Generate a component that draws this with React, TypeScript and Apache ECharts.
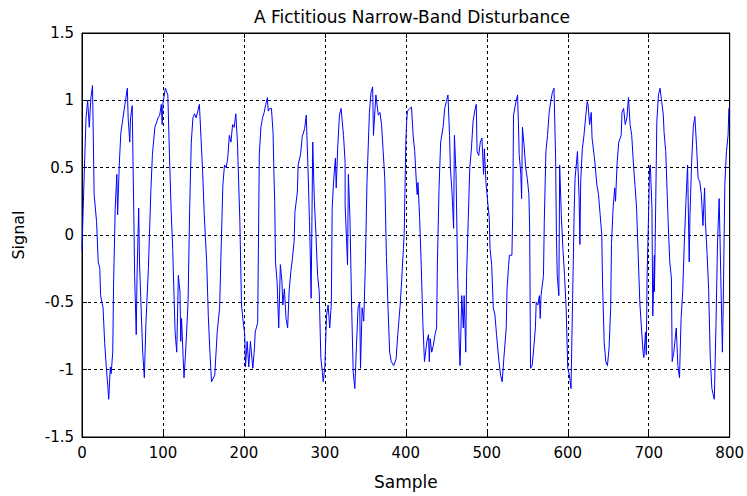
import React, { useEffect, useRef } from "react";
import * as echarts from "echarts";

const title = "A Fictitious Narrow-Band Disturbance";
const xName = "Sample";
const yName = "Signal";
const xTicks = [0, 800, 100];
const yTicks = [-1.5, 1.5, 0.5];

// Traced vertices of the signal: sample index and value
const sampleIdx = [
  0,1,3,5,7,9,11,13,15,18,20,22,23,26,28,30,32,33,35,36,38,39,41,43,44,46,48,53,56,57,59,60,62,64,65,67,68,70,71,73,75,77,79,82,85,87,90,94,96,98,
  99,100,103,106,108,110,112,115,117,119,121,122,123,125,126,128,131,133,135,137,139,141,143,145,147,149,151,154,156,158,160,164,167,170,172,174,176,178,180,182,184,186,188,190,192,195,197,199,201,
  202,204,206,208,211,213,214,217,219,221,223,225,227,229,230,232,234,236,237,238,239,241,243,245,247,248,250,252,254,256,258,260,262,263,266,267,270,272,275,277,279,281,282,283,285,287,289,291,293,295,298,300,
  302,304,306,308,309,311,313,314,316,318,320,323,325,325,327,328,329,331,333,335,337,339,341,343,344,346,348,350,352,355,357,359,360,362,363,366,368,370,372,374,376,378,380,382,385,388,390,393,395,397,398,400,
  401,402,405,407,409,411,413,414,415,417,419,421,423,426,428,429,430,432,434,436,438,439,441,443,446,448,450,452,454,455,457,459,460,462,464,466,467,469,471,472,474,475,477,479,481,483,485,487,488,490,492,494,496,497,499,501,503,504,
  506,508,510,512,515,517,519,521,524,525,527,528,531,532,533,536,538,539,540,542,543,544,546,548,550,552,553,554,556,558,560,561,563,565,566,567,570,571,573,575,577,579,581,583,585,586,587,589,590,592,594,596,598,600,602,604,
  606,608,609,612,614,615,616,618,620,622,624,625,627,629,630,633,636,638,640,642,643,645,647,649,651,653,654,656,658,659,661,663,666,667,669,671,673,675,677,679,681,683,685,687,689,691,693,694,696,697,698,700,701,
  702,704,705,707,707,708,710,712,714,716,718,719,721,724,726,728,729,731,734,736,738,740,742,744,746,748,750,751,753,755,757,759,761,763,765,767,769,770,772,774,776,778,781,783,785,787,789,791,792,794,796,798,799,800
];

const signal = [
  -0.12,0.1,0.5,0.87,1.0,0.8,1.02,1.11,0.3,0.1,-0.2,-0.25,-0.45,-0.54,-0.8,-0.98,-1.13,-1.22,-0.98,-1.03,-0.87,-0.37,0.2,0.45,0.15,0.52,0.76,0.97,1.09,0.87,0.69,0.87,0.96,0.15,-0.3,-0.74,-0.3,0.2,-0.2,-0.54,-0.87,-1.06,-0.65,-0.25,0.32,0.6,0.8,0.87,0.89,0.97,
  0.82,0.98,1.09,1.04,0.6,0.2,-0.1,-0.72,-0.87,-0.3,-0.42,-0.79,-0.62,-0.92,-1.06,-0.87,-0.5,0.2,0.69,0.87,0.9,0.87,0.92,0.97,0.72,0.47,0.15,-0.2,-0.6,-0.87,-1.09,-1.04,-0.72,-0.54,-0.07,0.37,0.52,0.5,0.57,0.74,0.69,0.82,0.8,0.9,0.69,0.1,-0.52,-0.64,-0.74,
  -0.98,-0.79,-0.98,-0.79,-0.99,-0.84,-0.72,-0.65,0.6,0.8,0.87,0.91,0.97,1.02,0.92,0.94,0.94,0.76,0.47,0.25,-0.2,-0.35,-0.69,-0.22,-0.35,-0.52,-0.4,-0.62,-0.69,-0.4,-0.27,-0.17,-0.05,0.17,0.32,0.52,0.6,0.73,0.79,0.89,0.52,0.1,-0.15,-0.47,0.69,0.25,0.0,-0.3,-0.42,-0.91,-1.09,-0.97,
  -0.6,-0.52,-0.69,-0.5,0.2,0.42,0.57,0.35,0.67,0.89,0.94,0.74,0.54,0.22,-0.07,-0.22,0.45,0.12,-0.52,-1.02,-1.14,-0.82,-0.54,-0.5,-0.99,-0.54,-0.64,-0.22,0.39,0.91,1.06,1.1,0.74,0.94,1.04,0.89,0.91,0.82,0.62,0.42,-0.16,-0.54,-0.87,-0.94,-0.97,-0.92,-0.74,-0.52,-0.32,-0.1,0.02,0.69,
  0.84,0.92,0.94,0.95,0.74,0.62,0.39,0.3,0.39,0.13,-0.22,-0.65,-0.94,-0.79,-0.74,-0.94,-0.77,-0.87,-0.82,-0.74,-0.69,-0.2,0.35,0.69,0.8,0.94,0.99,1.04,0.74,0.5,0.32,0.05,0.74,0.45,-0.3,-0.84,-0.97,-0.45,-0.69,-0.45,-0.87,-0.3,0.1,0.5,0.64,0.84,0.92,0.97,0.62,0.59,0.69,0.72,0.45,0.64,0.39,0.25,0.13,-0.1,
  -0.22,-0.54,-0.59,-0.74,-0.94,-1.04,-1.09,-0.92,-0.69,-0.4,-0.22,-0.15,-0.15,0.15,0.89,0.99,1.04,0.84,0.6,0.45,0.27,0.8,0.67,0.5,0.42,0.3,0.02,-0.99,-0.97,-0.84,-0.69,-0.5,-0.52,-0.45,-0.62,-0.45,-0.3,0.1,0.62,0.74,0.91,0.99,1.06,1.09,0.57,0.0,-0.3,-0.45,0.52,0.15,-0.1,-0.3,-0.54,-0.99,-1.04,-1.14,
  -0.47,0.2,0.42,0.62,0.27,-0.07,0.4,0.64,0.74,0.87,0.99,0.97,0.82,0.91,0.72,0.57,0.37,0.3,0.15,0.0,-0.37,-0.8,-0.94,-0.97,-0.84,-0.54,-0.07,0.2,0.35,0.25,0.54,0.69,0.74,0.91,0.94,0.82,0.87,1.02,0.82,0.74,0.54,0.37,0.2,-0.15,-0.5,-0.69,-0.87,-0.91,-0.72,-0.89,-0.3,0.2,0.5,
  0.52,0.2,-0.6,-0.15,-0.42,-0.05,0.84,1.04,1.09,0.99,0.89,0.76,0.62,0.1,-0.2,-0.32,-0.94,-0.87,-0.69,-0.97,-1.06,-0.62,-0.42,-0.05,0.25,0.52,-0.2,0.15,0.54,0.8,0.88,0.67,0.42,0.4,0.3,0.07,0.35,0.1,-0.13,-0.4,-0.91,-1.14,-1.22,-0.69,-0.05,0.27,-0.3,-0.87,-0.52,0.37,0.62,0.74,0.94,0.95
];

const FONT = "DejaVu Sans";

export default function App() {
  const ref = useRef<HTMLDivElement>(null);
  useEffect(() => {
    if (!ref.current) return;
    const chart = echarts.init(ref.current, null, { renderer: "svg" });
    const data = sampleIdx.map((s, i) => [s, signal[i]]);
    const black = "#000";
    const tickStyle = { show: true, inside: true, length: 5, lineStyle: { color: black, width: 1 } };
    const axisLine = { show: true, onZero: false, lineStyle: { color: black, width: 1 } };
    const grid = { left: 82, right: 15, top: 33, bottom: 59, show: true, borderColor: black, borderWidth: 1, backgroundColor: "#fff" };
    chart.setOption({
      animation: false,
      backgroundColor: "#fff",
      title: {
        text: title,
        left: 407,
        textAlign: "center",
        top: 3,
        textStyle: { fontFamily: FONT, fontSize: 17, fontWeight: "normal", color: black },
      },
      grid,
      xAxis: [
        {
          type: "value",
          min: xTicks[0],
          max: xTicks[1],
          interval: xTicks[2],
          name: xName,
          nameLocation: "middle",
          nameGap: 36,
          nameTextStyle: { fontFamily: FONT, fontSize: 17, color: black },
          axisLine,
          axisTick: tickStyle,
          axisLabel: { fontFamily: FONT, fontSize: 15, color: black, margin: 8 },
          splitLine: { show: true, lineStyle: { color: black, type: [3, 3], width: 1 } },
        },
        {
          type: "value",
          position: "top",
          min: xTicks[0],
          max: xTicks[1],
          interval: xTicks[2],
          axisLine,
          axisTick: tickStyle,
          axisLabel: { show: false },
          splitLine: { show: false },
        },
      ],
      yAxis: [
        {
          type: "value",
          min: yTicks[0],
          max: yTicks[1],
          interval: yTicks[2],
          name: yName,
          nameLocation: "middle",
          nameGap: 56,
          nameTextStyle: { fontFamily: FONT, fontSize: 16, color: black },
          axisLine,
          axisTick: tickStyle,
          axisLabel: { fontFamily: FONT, fontSize: 15, color: black, margin: 8 },
          splitLine: { show: true, lineStyle: { color: black, type: [3, 3], width: 1 } },
        },
        {
          type: "value",
          position: "right",
          min: yTicks[0],
          max: yTicks[1],
          interval: yTicks[2],
          axisLine,
          axisTick: tickStyle,
          axisLabel: { show: false },
          splitLine: { show: false },
        },
      ],
      series: [
        {
          type: "line",
          data,
          xAxisIndex: 0,
          yAxisIndex: 0,
          showSymbol: false,
          symbol: "none",
          lineStyle: { color: "#0000ff", width: 1 },
          z: 5,
        },
      ],
    });
    return () => chart.dispose();
  }, []);
  return (
    <div
      ref={ref}
      style={{ position: "fixed", left: 0, top: 0, width: 747, height: 496, background: "#fff" }}
    />
  );
}
